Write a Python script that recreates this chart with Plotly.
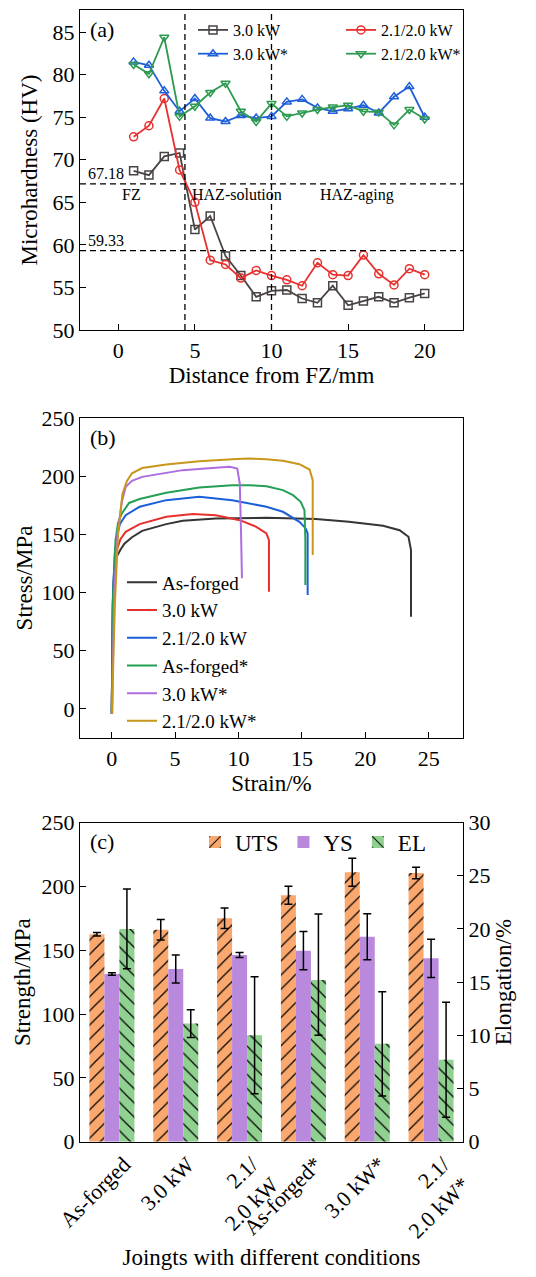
import plotly.graph_objects as go

FONT = "Liberation Serif, Times New Roman, serif"

# ---------------- Panel (a): microhardness ----------------
distance = list(range(1, 21))
hv_30 = [68.7, 68.2, 70.4, 70.8, 61.8, 63.4, 58.7, 56.4, 53.9, 54.6,
         54.7, 53.7, 53.2, 55.2, 52.9, 53.4, 53.9, 53.2, 53.8, 54.3]
hv_21 = [72.7, 74.0, 77.2, 68.8, 65.0, 58.2, 57.7, 56.1, 57.0, 56.4,
         55.9, 55.2, 57.9, 56.5, 56.4, 58.8, 56.6, 55.3, 57.2, 56.5]
hv_30s = [81.5, 81.1, 78.1, 75.7, 77.2, 74.9, 74.5, 75.2, 74.9, 75.1,
          76.8, 77.1, 76.1, 75.7, 76.0, 76.4, 75.5, 77.4, 78.6, 75.0]
hv_21s = [81.2, 80.1, 84.4, 75.1, 76.3, 77.9, 79.0, 75.7, 74.5, 76.6,
          75.1, 75.5, 75.9, 76.2, 76.4, 75.7, 75.6, 74.1, 75.9, 74.8]
zone_bounds = [4.35, 10]
ref_levels = [67.18, 59.33]
ref_labels = ["67.18", "59.33"]
zone_names = ["FZ", "HAZ-solution", "HAZ-aging"]
zone_centers = [0.85, 7.75, 15.6]
zone_label_y = 65.9

# ---------------- Panel (b): stress-strain curves ----------------
strain_af = [0.0, 0.02, 0.08, 0.2, 0.4, 0.7, 1.0, 1.6, 2.4, 4.3, 5.6, 8.2, 12.2, 16.1, 18.7, 21.4, 22.7, 23.4, 23.6, 23.6]
stress_af = [-4, 40, 90, 120, 131, 137, 142, 147.5, 153.0, 158.8, 161.7, 163.7, 164.2, 163.1, 160.8, 157.4, 153.6, 147.9, 136.5, 79.3]
strain_30 = [0.0, 0.03, 0.1, 0.25, 0.45, 0.7, 1.1, 2.2, 4.3, 6.4, 8.2, 10.1, 11.4, 12.2, 12.4, 12.4]
stress_30 = [-4, 40, 95, 125, 138, 146, 152.2, 158.8, 165.1, 167.4, 166.5, 162.2, 156.5, 150.8, 145.1, 100.7]
strain_21 = [0.0, 0.03, 0.1, 0.25, 0.45, 0.65, 1.1, 2.2, 4.3, 6.9, 9.5, 12.2, 13.5, 14.8, 15.3, 15.45, 15.45]
stress_21 = [-4, 40, 100, 135, 150, 159, 166.5, 173.7, 179.4, 182.3, 179.4, 173.7, 169.4, 160.8, 155.1, 150.8, 97.9]
strain_afs = [0.0, 0.04, 0.12, 0.3, 0.5, 0.8, 1.37, 2.2, 4.3, 6.9, 9.5, 10.8, 12.2, 13.5, 14.3, 14.9, 15.2, 15.27, 15.27]
stress_afs = [-4, 40, 100, 145, 160, 168, 177.0, 180.4, 185.7, 190.3, 192.3, 192.3, 191.4, 188.0, 183.7, 178.0, 170.8, 145.1, 106.4]
strain_30s = [0.02, 0.08, 0.2, 0.45, 0.8, 1.1, 1.6, 2.4, 5.6, 8.2, 9.3, 9.9, 10.1, 10.2, 10.27]
stress_30s = [-4, 40, 100, 150, 178, 190.8, 196.0, 199.4, 205.2, 207.2, 208.0, 206.6, 193.7, 150.8, 112.2]
strain_21s = [0.05, 0.1, 0.25, 0.5, 0.85, 1.2, 1.6, 2.4, 4.3, 6.9, 9.5, 10.8, 12.2, 13.5, 14.8, 15.6, 15.85, 15.85]
stress_21s = [-4, 30, 90, 150, 185, 196, 202.5, 207.0, 210.0, 212.9, 214.6, 215.2, 214.6, 213.2, 210.3, 205.7, 196.6, 132.2]

# ---------------- Panel (c): bar chart ----------------
conditions = ["As-forged", "3.0 kW", "2.1/2.0 kW", "As-forged*", "3.0 kW*", "2.1/2.0 kW*"]
tick_labels = ["As-forged", "3.0 kW", "2.1/<br>2.0 kW", "As-forged*", "3.0 kW*", "2.1/<br>2.0 kW*"]
uts = [162.5, 166.0, 175.0, 193.0, 211.0, 210.5]
uts_err = [1.3, 8.0, 8.0, 7.0, 11.0, 4.5]
ys = [131.3, 135.2, 146.2, 149.6, 160.6, 143.6]
ys_err = [1.0, 11.0, 2.0, 15.0, 18.0, 15.0]
el = [20.0, 11.1, 10.0, 15.2, 9.2, 7.7]
el_err_plus = [3.75, 1.3, 5.5, 6.2, 4.9, 5.4]
el_err_minus = [3.75, 1.3, 5.5, 5.2, 4.9, 5.4]

fig = go.Figure()

# (a) traces
a_series = [
    ("3.0 kW", hv_30, "#4a4343", "square-open", "legend"),
    ("2.1/2.0 kW", hv_21, "#e8302e", "circle-open", "legend2"),
    ("3.0 kW*", hv_30s, "#1f5fd8", "triangle-up-open", "legend"),
    ("2.1/2.0 kW*", hv_21s, "#2e9a50", "triangle-down-open", "legend2"),
]
for name, vals, col, sym, lg in a_series:
    fig.add_trace(go.Scatter(
        x=distance, y=vals, name=name, mode="lines+markers",
        line=dict(color=col, width=1.8),
        marker=dict(symbol=sym, size=8, color=col, line=dict(width=1.5, color=col)),
        xaxis="x", yaxis="y", legend=lg))

# (b) traces
b_series = [
    ("As-forged", strain_af, stress_af, "#353535"),
    ("3.0 kW", strain_30, stress_30, "#e8302e"),
    ("2.1/2.0 kW", strain_21, stress_21, "#1a5fd8"),
    ("As-forged*", strain_afs, stress_afs, "#24a055"),
    ("3.0 kW*", strain_30s, stress_30s, "#ad6ce0"),
    ("2.1/2.0 kW*", strain_21s, stress_21s, "#c9961c"),
]
for name, sx, sy, col in b_series:
    fig.add_trace(go.Scatter(
        x=sx, y=sy, name=name, mode="lines", line=dict(color=col, width=2),
        xaxis="x2", yaxis="y2", legend="legend3"))

# (c) traces
bar_w = 0.235
fig.add_trace(go.Bar(
    x=conditions, y=uts, name="UTS", width=bar_w, offset=-1.5 * bar_w,
    marker=dict(color="#fba86f", line=dict(width=0),
                pattern=dict(shape="/", fgcolor="black", bgcolor="#fba86f", size=10, solidity=0.12)),
    error_y=dict(type="data", array=uts_err, color="black", thickness=1.5, width=4),
    xaxis="x3", yaxis="y3", legend="legend4"))
fig.add_trace(go.Bar(
    x=conditions, y=ys, name="YS", width=bar_w, offset=-0.5 * bar_w,
    marker=dict(color="#b889dc", line=dict(width=0)),
    error_y=dict(type="data", array=ys_err, color="black", thickness=1.5, width=4),
    xaxis="x3", yaxis="y3", legend="legend4"))
fig.add_trace(go.Bar(
    x=conditions, y=el, name="EL", width=bar_w, offset=0.5 * bar_w,
    marker=dict(color="#90d090", line=dict(width=0),
                pattern=dict(shape="\\", fgcolor="black", bgcolor="#90d090", size=10, solidity=0.12)),
    error_y=dict(type="data", symmetric=False, array=el_err_plus, arrayminus=el_err_minus,
                 color="black", thickness=1.5, width=4),
    xaxis="x3", yaxis="y4", legend="legend4"))

# reference lines in (a)
for xb in zone_bounds:
    fig.add_shape(type="line", xref="x", yref="y domain", x0=xb, x1=xb, y0=0, y1=1,
                  line=dict(color="black", width=1.3, dash="6px,4px"))
for yl in ref_levels:
    fig.add_shape(type="line", xref="x domain", yref="y", x0=0, x1=1, y0=yl, y1=yl,
                  line=dict(color="black", width=1.3, dash="6px,4px"))

ann = []
for lbl, yl in zip(ref_labels, ref_levels):
    ann.append(dict(text=lbl, xref="x domain", yref="y", x=0.015, y=yl, xanchor="left",
                    yanchor="bottom", showarrow=False, font=dict(size=16)))
for nm, xc in zip(zone_names, zone_centers):
    ann.append(dict(text=nm, xref="x", yref="y", x=xc, y=zone_label_y, showarrow=False,
                    font=dict(size=16)))
for lbl, xr, yr in [("(a)", "x domain", "y domain"), ("(b)", "x2 domain", "y2 domain"),
                    ("(c)", "x3 domain", "y3 domain")]:
    ann.append(dict(text=lbl, xref=xr, yref=yr, x=0.02, y=0.94, xanchor="left",
                    yanchor="middle", showarrow=False, font=dict(size=22)))

H = 1277.0
def dom(top, bottom):
    return [1 - bottom / H, 1 - top / H]

axis_common = dict(showline=True, linecolor="black", linewidth=1.3, mirror=True,
                   ticks="inside", ticklen=6, tickwidth=1.3, tickcolor="black",
                   showgrid=False, zeroline=False, tickfont=dict(size=22), automargin=False)

fig.update_layout(
    template="none",
    width=536, height=1277,
    margin=dict(l=80, r=73, t=0, b=0),
    paper_bgcolor="white", plot_bgcolor="white",
    font=dict(family=FONT, color="black", size=20),
    barmode="overlay",
    xaxis=dict(axis_common, domain=[0, 1], range=[-2.5, 22.5], tickvals=[0, 5, 10, 15, 20],
               anchor="y", title=dict(text="Distance from FZ/mm", font=dict(size=23), standoff=2)),
    yaxis=dict(axis_common, domain=dom(10, 330), range=[50, 87.6], dtick=5, anchor="x",
               title=dict(text="Microhardness (HV)", font=dict(size=23), standoff=8)),
    xaxis2=dict(axis_common, domain=[0, 1], range=[-2.5, 27.7], dtick=5, anchor="y2",
                title=dict(text="Strain/%", font=dict(size=23), standoff=2)),
    yaxis2=dict(axis_common, domain=dom(418, 738), range=[-25, 250], dtick=50, anchor="x2",
                title=dict(text="Stress/MPa", font=dict(size=23), standoff=2)),
    xaxis3=dict(axis_common, domain=[0, 1], range=[-0.5, 5.5], anchor="y3", ticks="",
                tickvals=conditions, ticktext=tick_labels, tickangle=-45, ticklabelshift=12,
                title=dict(text="Joingts with different conditions", font=dict(size=23), standoff=6)),
    yaxis3=dict(axis_common, domain=dom(822.5, 1141.7), range=[0, 250], dtick=50, anchor="x3",
                title=dict(text="Strength/MPa", font=dict(size=23), standoff=4)),
    yaxis4=dict(axis_common, overlaying="y3", side="right", range=[0, 30], dtick=5,
                anchor="x3", mirror=False,
                title=dict(text="Elongation/%", font=dict(size=23), standoff=2)),
    legend=dict(x=(193 - 80) / 383, y=1 - 13 / H, xanchor="left", yanchor="top",
                bgcolor="rgba(0,0,0,0)", font=dict(size=16), tracegroupgap=0),
    legend2=dict(x=(341 - 80) / 383, y=1 - 13 / H, xanchor="left", yanchor="top",
                 bgcolor="rgba(0,0,0,0)", font=dict(size=16), tracegroupgap=0),
    legend3=dict(x=(122 - 80) / 383, y=1 - 652 / H, xanchor="left", yanchor="middle",
                 bgcolor="rgba(0,0,0,0)", font=dict(size=19), tracegroupgap=0),
    legend4=dict(x=(195 - 80) / 383, y=1 - 842 / H, xanchor="left", yanchor="middle",
                 orientation="h", bgcolor="rgba(0,0,0,0)", font=dict(size=23)),
    annotations=ann,
)

fig.write_html("out.html", config={"displayModeBar": False},
               post_script="document.body.style.margin='0px';")
